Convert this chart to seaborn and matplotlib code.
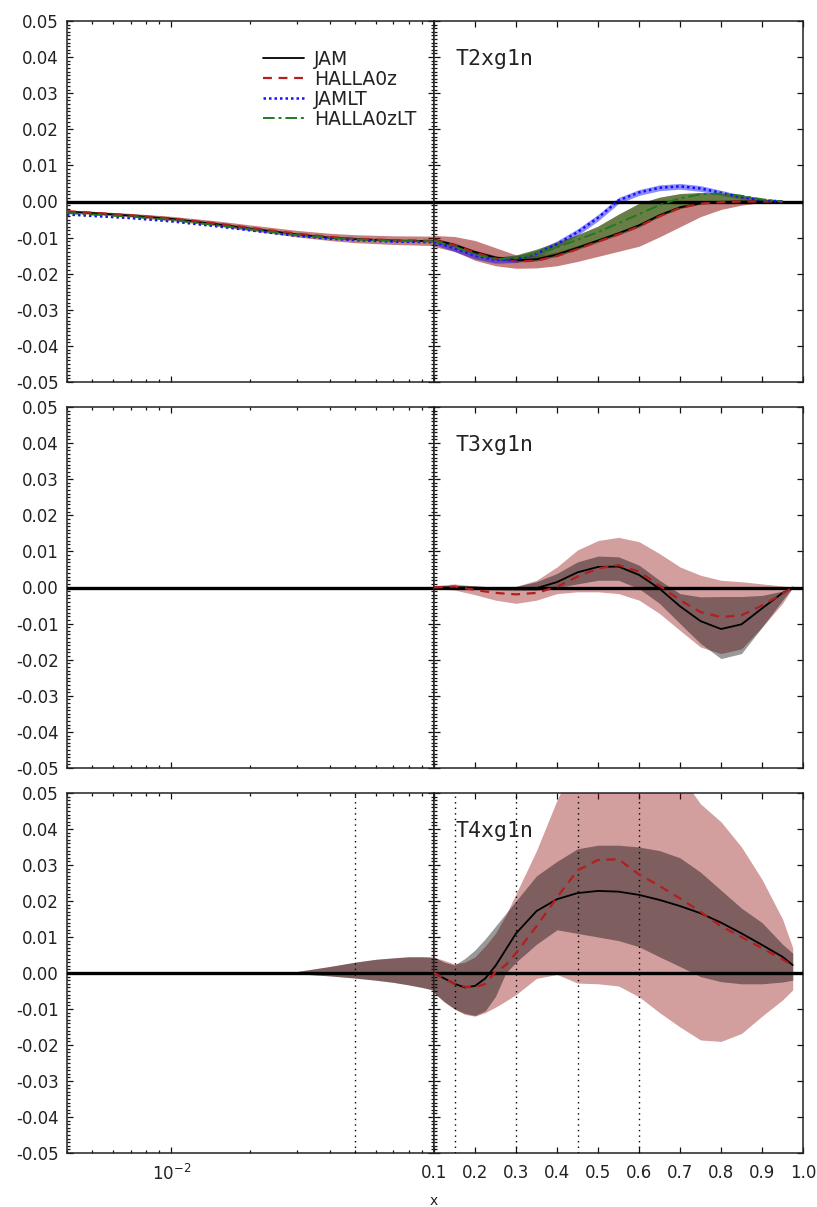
import numpy as np
import pandas as pd
import matplotlib
matplotlib.use("Agg")
import matplotlib.pyplot as plt
import matplotlib.ticker as mticker
from matplotlib.lines import Line2D
import seaborn as sns

sns.set_style("ticks")
plt.rcParams["font.family"] = ["DejaVu Sans"]
plt.rcParams["axes.unicode_minus"] = False

# ---------------- data ----------------
SERIES = ["JAM", "HALLA0z", "JAMLT", "HALLA0zLT"]
PANEL_LABELS = ["T2xg1n", "T3xg1n", "T4xg1n"]
XR_TICKS = [0.1, 0.2, 0.3, 0.4, 0.5, 0.6, 0.7, 0.8, 0.9, 1.0]
Y_TICKS = [-0.05, -0.04, -0.03, -0.02, -0.01, 0.0, 0.01, 0.02, 0.03, 0.04, 0.05]
T4_MARKS_LOG = [0.05]
T4_MARKS_LIN = [0.15, 0.3, 0.45, 0.6]

# Panel 1 (T2xg1n) -- small-x (log) part
xl1 = [0.004, 0.005, 0.007, 0.01, 0.015, 0.02, 0.03, 0.04, 0.05, 0.07, 0.1]
jam1_l = [-0.0028, -0.0032, -0.0039, -0.0048, -0.0063, -0.0075, -0.0091, -0.0100, -0.0104, -0.0108, -0.0110]
halla1_l = [-0.0027, -0.0031, -0.0038, -0.0047, -0.0061, -0.0073, -0.0089, -0.0098, -0.0103, -0.0107, -0.0109]
jamlt1_l = [-0.0036, -0.0040, -0.0046, -0.0055, -0.0069, -0.0080, -0.0095, -0.0103, -0.0107, -0.0111, -0.0113]
hallalt1_l = [-0.0032, -0.0036, -0.0042, -0.0051, -0.0066, -0.0077, -0.0093, -0.0101, -0.0105, -0.0109, -0.0111]
halla1_l_hi = [-0.0023, -0.0027, -0.0033, -0.0041, -0.0054, -0.0065, -0.0080, -0.0088, -0.0092, -0.0095, -0.0096]
halla1_l_lo = [-0.0032, -0.0036, -0.0043, -0.0053, -0.0068, -0.0081, -0.0098, -0.0108, -0.0114, -0.0119, -0.0122]

# Panel 1 -- large-x (linear) part
xr1 = [0.1, 0.15, 0.2, 0.25, 0.3, 0.35, 0.4, 0.45, 0.5, 0.55, 0.6, 0.65, 0.7, 0.75, 0.8, 0.85, 0.9, 0.95]
jam1 = [-0.0106, -0.0120, -0.0140, -0.0155, -0.0163, -0.0160, -0.0147, -0.0128, -0.0108, -0.0088, -0.0066, -0.0038, -0.0016, -0.0005, -0.0001, 0.0, 0.0, 0.0]
halla1 = [-0.0107, -0.0121, -0.0142, -0.0158, -0.0166, -0.0164, -0.0151, -0.0132, -0.0111, -0.0091, -0.0069, -0.0041, -0.0018, -0.0006, -0.0002, 0.0, 0.0, 0.0]
jamlt1 = [-0.0111, -0.0130, -0.0150, -0.0162, -0.0160, -0.0145, -0.0118, -0.0085, -0.0045, 0.0003, 0.0025, 0.0038, 0.0042, 0.0036, 0.0024, 0.0012, 0.0004, 0.0]
hallalt1 = [-0.0109, -0.0125, -0.0147, -0.0160, -0.0157, -0.0143, -0.0127, -0.0106, -0.0085, -0.0060, -0.0035, -0.0010, 0.0009, 0.0020, 0.0022, 0.0016, 0.0006, 0.0]
halla1_hi = [-0.0094, -0.0097, -0.0108, -0.0128, -0.0148, -0.0150, -0.0139, -0.0122, -0.0104, -0.0085, -0.0063, -0.0036, -0.0015, -0.0004, 0.0, 0.0, 0.0, 0.0]
halla1_lo = [-0.0125, -0.0138, -0.0163, -0.0178, -0.0185, -0.0184, -0.0178, -0.0166, -0.0152, -0.0138, -0.0124, -0.0098, -0.0070, -0.0042, -0.0022, -0.0010, -0.0003, 0.0]
jam1_hi = [-0.0101, -0.0115, -0.0135, -0.0150, -0.0158, -0.0155, -0.0142, -0.0123, -0.0103, -0.0083, -0.0061, -0.0034, -0.0013, -0.0003, 0.0, 0.0, 0.0, 0.0]
jam1_lo = [-0.0111, -0.0125, -0.0145, -0.0160, -0.0168, -0.0165, -0.0152, -0.0133, -0.0113, -0.0093, -0.0071, -0.0042, -0.0019, -0.0007, -0.0002, 0.0, 0.0, 0.0]
jamlt1_hi = [-0.0103, -0.0121, -0.0141, -0.0153, -0.0151, -0.0136, -0.0109, -0.0076, -0.0036, 0.0011, 0.0033, 0.0046, 0.0050, 0.0044, 0.0031, 0.0018, 0.0008, 0.0]
jamlt1_lo = [-0.0119, -0.0139, -0.0159, -0.0171, -0.0169, -0.0154, -0.0127, -0.0094, -0.0054, -0.0006, 0.0017, 0.0030, 0.0034, 0.0028, 0.0017, 0.0006, 0.0001, 0.0]
hallalt1_hi = [-0.0104, -0.0118, -0.0142, -0.0155, -0.0148, -0.0132, -0.0112, -0.0092, -0.0068, -0.0035, -0.0005, 0.0012, 0.0022, 0.0025, 0.0024, 0.0018, 0.0008, 0.0001]
hallalt1_lo = [-0.0110, -0.0124, -0.0144, -0.0159, -0.0166, -0.0163, -0.0150, -0.0131, -0.0111, -0.0091, -0.0069, -0.0041, -0.0019, -0.0007, -0.0002, 0.0, 0.0, 0.0]

# Panel 2 (T3xg1n)
xr2 = [0.1, 0.15, 0.2, 0.25, 0.3, 0.35, 0.4, 0.45, 0.5, 0.55, 0.6, 0.65, 0.7, 0.75, 0.8, 0.85, 0.9, 0.95, 0.975]
jam2 = [0.0, 0.0001, 0.0, -0.0002, -0.0003, -0.0002, 0.0015, 0.0042, 0.0057, 0.0058, 0.0035, -0.0003, -0.0052, -0.0093, -0.0115, -0.0102, -0.0058, -0.0015, 0.0]
halla2 = [0.0, 0.0003, -0.0007, -0.0015, -0.0019, -0.0015, 0.0002, 0.0030, 0.0053, 0.0062, 0.0044, 0.0005, -0.0035, -0.0068, -0.0082, -0.0077, -0.0050, -0.0017, 0.0]
halla2_hi = [0.0005, 0.0010, 0.0004, 0.0, 0.0003, 0.0020, 0.0057, 0.0104, 0.0130, 0.0139, 0.0127, 0.0094, 0.0057, 0.0034, 0.0020, 0.0016, 0.0010, 0.0004, 0.0]
halla2_lo = [-0.0003, -0.0007, -0.0020, -0.0035, -0.0044, -0.0035, -0.0017, -0.0012, -0.0012, -0.0017, -0.0035, -0.0072, -0.0119, -0.0165, -0.0183, -0.0170, -0.0110, -0.0044, 0.0]
jam2_hi = [0.0002, 0.0003, 0.0002, 0.0002, 0.0003, 0.0016, 0.0039, 0.0071, 0.0087, 0.0085, 0.0062, 0.0020, -0.0017, -0.0026, -0.0025, -0.0025, -0.0022, -0.0010, 0.0]
jam2_lo = [-0.0002, -0.0003, -0.0005, -0.0007, -0.0008, -0.0008, 0.0, 0.0010, 0.0020, 0.0020, -0.0003, -0.0044, -0.0100, -0.0155, -0.0197, -0.0183, -0.0110, -0.0035, 0.0]

# Panel 3 (T4xg1n) -- log part (band only, curves sit on zero)
xl3 = [0.02, 0.025, 0.03, 0.04, 0.05, 0.06, 0.07, 0.08, 0.09, 0.1]
t4_l_line = [0.0, 0.0, 0.0, 0.0, 0.0, 0.0, 0.0, 0.0, -0.0001, -0.0002]
t4_l_hi = [0.0, 0.0001, 0.0004, 0.0018, 0.0030, 0.0038, 0.0042, 0.0045, 0.0045, 0.0044]
t4_l_lo = [0.0, -0.0001, -0.0002, -0.0008, -0.0014, -0.0020, -0.0026, -0.0033, -0.0040, -0.0048]

# Panel 3 -- linear part
xr3 = [0.1, 0.125, 0.15, 0.175, 0.2, 0.225, 0.25, 0.275, 0.3, 0.35, 0.4, 0.45, 0.5, 0.55, 0.6, 0.65, 0.7, 0.75, 0.8, 0.85, 0.9, 0.95, 0.975]
jam3 = [0.0, -0.0015, -0.0030, -0.0040, -0.0036, -0.0015, 0.0020, 0.0065, 0.0110, 0.0172, 0.0205, 0.0222, 0.0228, 0.0226, 0.0217, 0.0203, 0.0186, 0.0166, 0.0140, 0.0110, 0.0078, 0.0045, 0.0022]
halla3 = [0.0, -0.0015, -0.0030, -0.0038, -0.0040, -0.0030, 0.0003, 0.0022, 0.0055, 0.0130, 0.0210, 0.0285, 0.0314, 0.0316, 0.0274, 0.0242, 0.0207, 0.0170, 0.0130, 0.0100, 0.0069, 0.0038, 0.0020]
jam3_hi = [0.0044, 0.0030, 0.0022, 0.0040, 0.0064, 0.0095, 0.0130, 0.0165, 0.0200, 0.0270, 0.0310, 0.0345, 0.0355, 0.0355, 0.0350, 0.0340, 0.0320, 0.0280, 0.0230, 0.0180, 0.0140, 0.0080, 0.0055]
jam3_lo = [-0.0055, -0.0080, -0.0100, -0.0112, -0.0118, -0.0105, -0.0065, 0.0000, 0.0030, 0.0080, 0.0120, 0.0110, 0.0100, 0.0090, 0.0073, 0.0045, 0.0018, -0.0010, -0.0024, -0.0030, -0.0030, -0.0025, -0.0020]
halla3_hi = [0.0044, 0.0035, 0.0025, 0.0030, 0.0045, 0.0075, 0.0110, 0.0160, 0.0220, 0.0340, 0.0480, 0.0600, 0.0680, 0.0720, 0.0700, 0.0640, 0.0550, 0.0470, 0.0420, 0.0350, 0.0260, 0.0150, 0.0070]
halla3_lo = [-0.0055, -0.0080, -0.0100, -0.0115, -0.0120, -0.0110, -0.0095, -0.0078, -0.0060, -0.0015, -0.0004, -0.0028, -0.0030, -0.0036, -0.0066, -0.0110, -0.0150, -0.0186, -0.0190, -0.0168, -0.0120, -0.0075, -0.0047]

# ---------------- styles ----------------
COL = {"JAM": "black", "HALLA0z": "#b41e1e", "JAMLT": "#1010ff", "HALLA0zLT": "#1f7a1f"}
LS = {"JAM": "-", "HALLA0z": (0, (4, 3)), "JAMLT": (0, (1, 1.2)), "HALLA0zLT": (0, (6, 2, 1.5, 2))}
LW = {"JAM": 1.3, "HALLA0z": 1.6, "JAMLT": 1.8, "HALLA0zLT": 1.4}
BAND = {"JAM": ("black", 0.40), "HALLA0z": ("#8b0000", 0.38),
        "JAMLT": ("#0000ff", 0.45), "HALLA0zLT": ("#3d5a12", 0.78)}

W, H = 817, 1207
fig = plt.figure(figsize=(W / 100, H / 100), dpi=100)
panel_px = [(21, 382), (407, 768), (793, 1153)]
XL0, XDIV, XR1 = 67, 434, 803


def frac_box(x0, x1, top, bot):
    return [x0 / W, 1 - bot / H, (x1 - x0) / W, (bot - top) / H]


def line(ax, x, y, name, label=None):
    sns.lineplot(x=np.asarray(x), y=np.asarray(y), ax=ax, color=COL[name],
                 linestyle=LS[name], lw=LW[name], zorder=5, label=label, legend=False)


def band(ax, x, lo, hi, name, alpha=None):
    c, a = BAND[name]
    ax.fill_between(x, lo, hi, color=c, alpha=a if alpha is None else alpha, lw=0, zorder=2)


def style_axes(ax, side, show_xlabels):
    ax.set_ylim(-0.05, 0.05)
    ax.yaxis.set_major_locator(mticker.FixedLocator(Y_TICKS))
    ax.yaxis.set_minor_locator(mticker.MultipleLocator(0.001))
    for sp in ax.spines.values():
        sp.set_visible(True)
        sp.set_linewidth(1.1)
        sp.set_color("#222222")
    ax.tick_params(which="both", direction="in", top=True, bottom=True,
                   left=True, right=True, color="#111111", width=0.9)
    ax.tick_params(which="major", length=4.0)
    ax.tick_params(which="minor", length=2.2)
    if side == "left":
        ax.set_xscale("log")
        ax.set_xlim(0.004, 0.1)
        ax.xaxis.set_major_locator(mticker.FixedLocator([0.01]))
        ax.xaxis.set_major_formatter(mticker.FixedFormatter(["$10^{-2}$"]))
        ax.xaxis.set_minor_locator(mticker.LogLocator(base=10, subs=np.arange(2, 10)))
        ax.xaxis.set_minor_formatter(mticker.NullFormatter())
        ax.yaxis.set_major_formatter(mticker.FormatStrFormatter("%.2f"))
        ax.tick_params(axis="y", labelsize=12, labelcolor="#222222", pad=6)
    else:
        ax.set_xlim(0.1, 1.0)
        ax.xaxis.set_major_locator(mticker.FixedLocator(XR_TICKS))
        ax.xaxis.set_major_formatter(mticker.FixedFormatter(["%.1f" % v for v in XR_TICKS]))
        ax.xaxis.set_minor_locator(mticker.NullLocator())
        ax.tick_params(axis="y", which="minor", right=False)
        ax.tick_params(axis="y", labelleft=False)
    ax.tick_params(axis="x", labelsize=12, labelcolor="#222222", pad=8,
                   labelbottom=show_xlabels)
    ax.set_xlabel("")
    ax.set_ylabel("")
    ax.axhline(0.0, color="black", lw=2.4, zorder=4)


axes = []
for i, (top, bot) in enumerate(panel_px):
    axl = fig.add_axes(frac_box(XL0, XDIV, top, bot))
    axr = fig.add_axes(frac_box(XDIV, XR1, top, bot))
    axes.append((axl, axr))

# ---- Panel 1 ----
axl, axr = axes[0]
band(axl, xl1, halla1_l_lo, halla1_l_hi, "HALLA0z", alpha=0.5)
for nm, yy in [("JAM", jam1_l), ("HALLA0z", halla1_l), ("JAMLT", jamlt1_l), ("HALLA0zLT", hallalt1_l)]:
    line(axl, xl1, yy, nm)
band(axr, xr1, halla1_lo, halla1_hi, "HALLA0z", alpha=0.5)
band(axr, xr1, jam1_lo, jam1_hi, "JAM", alpha=0.3)
band(axr, xr1, jamlt1_lo, jamlt1_hi, "JAMLT")
band(axr, xr1, hallalt1_lo, hallalt1_hi, "HALLA0zLT")
for nm, yy in [("JAM", jam1), ("HALLA0z", halla1), ("JAMLT", jamlt1), ("HALLA0zLT", hallalt1)]:
    line(axr, xr1, yy, nm)

# ---- Panel 2 ----
axl, axr = axes[1]
band(axr, xr2, halla2_lo, halla2_hi, "HALLA0z")
band(axr, xr2, jam2_lo, jam2_hi, "JAM")
line(axr, xr2, jam2, "JAM")
line(axr, xr2, halla2, "HALLA0z")

# ---- Panel 3 ----
axl, axr = axes[2]
band(axl, xl3, t4_l_lo, t4_l_hi, "HALLA0z")
band(axl, xl3, t4_l_lo, t4_l_hi, "JAM")
line(axl, xl3, t4_l_line, "JAM")
band(axr, xr3, halla3_lo, halla3_hi, "HALLA0z")
band(axr, xr3, jam3_lo, jam3_hi, "JAM")
line(axr, xr3, jam3, "JAM")
line(axr, xr3, halla3, "HALLA0z")
for xv in T4_MARKS_LOG:
    axl.axvline(xv, color="black", ls=(0, (1, 3)), lw=1.0, zorder=3)
for xv in T4_MARKS_LIN:
    axr.axvline(xv, color="black", ls=(0, (1, 3)), lw=1.0, zorder=3)

for i, (axl, axr) in enumerate(axes):
    style_axes(axl, "left", i == 2)
    style_axes(axr, "right", i == 2)
    axr.text(0.057, 0.878, PANEL_LABELS[i], transform=axr.transAxes,
             family="DejaVu Sans Mono", fontsize=15.5, color="#222222",
             va="baseline", ha="left", zorder=6)

# legend
handles = [Line2D([], [], color=COL[n], ls=LS[n], lw=LW[n]) for n in SERIES]
axes[0][0].legend(handles, SERIES, loc="upper left", bbox_to_anchor=(0.533, 0.92),
                  frameon=False, fontsize=13.5, handlelength=2.2, handletextpad=0.55,
                  labelspacing=0.05, borderpad=0.0, borderaxespad=0.0,
                  labelcolor="#222222")

fig.text(XDIV / W, 1 - 1201 / H, "x", ha="center", va="center", fontsize=10, color="#222222")

fig.savefig("out.png", dpi=100)
